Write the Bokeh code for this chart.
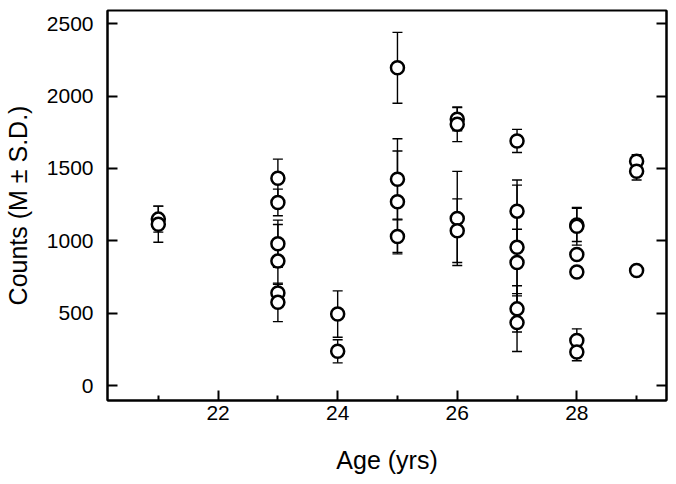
from bokeh.plotting import figure
from bokeh.models import ColumnDataSource, Whisker, TeeHead, FixedTicker, LinearAxis, Range1d
from bokeh.embed import file_html
from bokeh.resources import INLINE

# Data
ages = [21, 21,
        23, 23, 23, 23, 23, 23,
        24, 24,
        25, 25, 25, 25,
        26, 26, 26, 26,
        27, 27, 27, 27, 27, 27,
        28, 28, 28, 28, 28, 28,
        29, 29, 29]
means = [1150, 1115,
         1432, 1265, 980, 860, 640, 575,
         494, 237,
         2195, 1425, 1270, 1030,
         1840, 1805, 1155, 1070,
         1690, 1205, 955, 850, 530, 435,
         1110, 1100, 905, 785, 312, 232,
         1550, 1480, 795]
sds = [90, 125,
       132, 92, 163, 253, 60, 133,
       160, 80,
       245, 280, 350, 120,
       80, 120, 325, 220,
       80, 215, 430, 230, 160, 200,
       115, 130, 0, 0, 80, 60,
       45, 60, 0]

x_ticks = [22, 24, 26, 28]
x_minor_ticks = [21, 23, 25, 27, 29]
y_ticks = [0, 500, 1000, 1500, 2000, 2500]

upper = [m + s for m, s in zip(means, sds)]
lower = [m - s for m, s in zip(means, sds)]
src = ColumnDataSource(dict(x=ages, mean=means, upper=upper, lower=lower))

FONT = "Liberation Sans"

p = figure(width=668, height=476,
           x_range=Range1d(20.15, 29.5), y_range=Range1d(-103, 2591),
           output_backend="svg", toolbar_location=None,
           min_border_left=107, min_border_right=2, min_border_top=10, min_border_bottom=72)
p.grid.visible = False
p.outline_line_color = "black"
p.outline_line_width = 2
p.outline_line_alpha = 1.0

w = Whisker(source=src, base="x", upper="upper", lower="lower",
            line_color="black", line_width=1.4,
            upper_head=TeeHead(size=10, line_color="black", line_width=1.4),
            lower_head=TeeHead(size=10, line_color="black", line_width=1.4))
p.add_layout(w)

p.scatter("x", "mean", source=src, marker="circle", size=13,
          fill_color="white", line_color="black", line_width=2.5)

# x axis
xa = p.xaxis[0]
xa.ticker = FixedTicker(ticks=x_ticks, minor_ticks=x_minor_ticks)
xa.axis_label = "Age (yrs)"
# y axis
ya = p.yaxis[0]
ya.ticker = FixedTicker(ticks=y_ticks, minor_ticks=[])
ya.axis_label = "Counts (M \u00b1 S.D.)"

for ax in (xa, ya):
    ax.major_tick_in = 10
    ax.major_tick_out = 0
    ax.minor_tick_in = 5
    ax.minor_tick_out = 0
    ax.major_tick_line_width = 2
    ax.minor_tick_line_width = 2
    ax.major_tick_line_color = "black"
    ax.minor_tick_line_color = "black"
    ax.axis_line_color = "black"
    ax.axis_line_width = 2
    ax.major_label_text_font = FONT
    ax.major_label_text_font_size = "21px"
    ax.major_label_text_color = "black"
    ax.axis_label_text_font = FONT
    ax.axis_label_text_font_size = "25px"
    ax.axis_label_text_font_style = "normal"
    ax.axis_label_text_color = "black"

xa.major_label_standoff = 5
xa.axis_label_standoff = 23
ya.major_label_standoff = 14
ya.axis_label_standoff = 12

ra = LinearAxis(ticker=FixedTicker(ticks=y_ticks, minor_ticks=[]))
ra.major_tick_in = 10
ra.major_tick_out = 0
ra.major_tick_line_width = 2
ra.major_tick_line_color = "black"
ra.axis_line_color = "black"
ra.axis_line_width = 2
ra.major_label_overrides = {t: "" for t in y_ticks}
ra.major_label_standoff = 0
p.add_layout(ra, "right")

open("out.html", "w").write(file_html(p, INLINE))
